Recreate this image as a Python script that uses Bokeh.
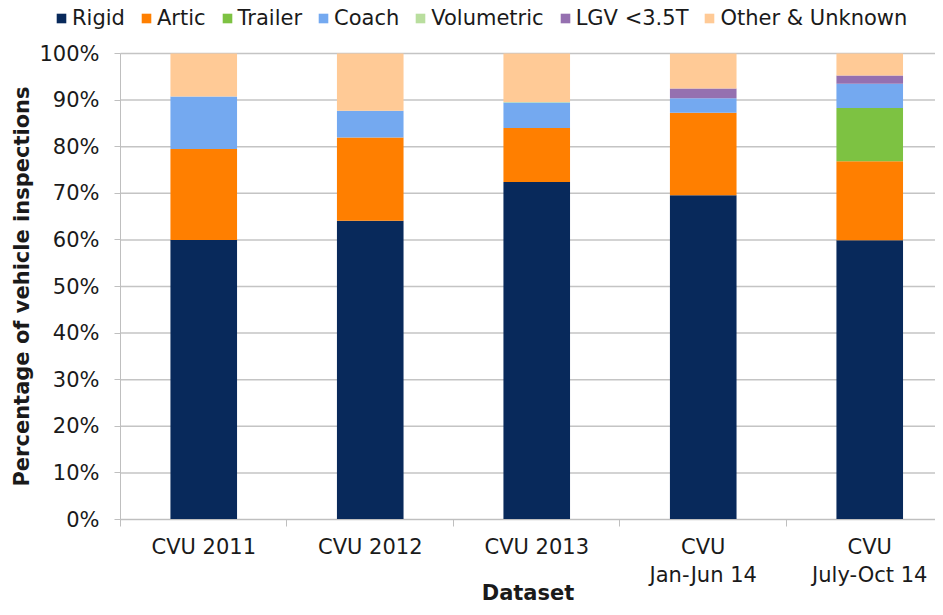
from bokeh.plotting import figure
from bokeh.models import (ColumnDataSource, Range1d, FixedTicker, NumeralTickFormatter,
                          Legend, LegendItem)
from bokeh.layouts import column
from bokeh.embed import file_html
from bokeh.resources import INLINE

categories = ["CVU 2011", "CVU 2012", "CVU 2013", "CVU\nJan-Jun 14", "CVU\nJuly-Oct 14"]
series_names = ["Rigid", "Artic", "Trailer", "Coach", "Volumetric", "LGV <3.5T", "Other & Unknown"]
rigid      = [0.600, 0.641, 0.724, 0.696, 0.599]
artic      = [0.195, 0.179, 0.116, 0.177, 0.170]
trailer    = [0.000, 0.000, 0.000, 0.000, 0.114]
coach      = [0.113, 0.057, 0.055, 0.031, 0.052]
volumetric = [0.000, 0.000, 0.001, 0.000, 0.000]
lgv        = [0.000, 0.000, 0.000, 0.021, 0.018]
other      = [0.092, 0.123, 0.104, 0.075, 0.047]
colors = ["#08295B", "#FF7F00", "#7DC242", "#74A9F0", "#B9DE9E", "#9570B0", "#FFCA96"]
y_ticks = [0.0, 0.1, 0.2, 0.3, 0.4, 0.5, 0.6, 0.7, 0.8, 0.9, 1.0]

series = [rigid, artic, trailer, coach, volumetric, lgv, other]
xs = [i + 0.5 for i in range(len(categories))]
X_END = 4.895          # right edge of the plotting area (in category units)
X_START = -0.7207      # room on the left for the value axis labels and title
Y_START = -0.1888      # room below for the category labels and title
Y_END = 1.0279         # a little room above 100% for its tick label

FONT = "DejaVu Sans"
FS = "21px"
GRID = "#C4C4C4"
AXIS = "#BFBFBF"
TXT = "#1a1a1a"

data = {"x": xs}
for name, vals in zip(series_names, series):
    data[name] = vals
src = ColumnDataSource(data)

# ---------------- main chart ----------------
p = figure(width=935, height=567, output_backend="svg", toolbar_location=None,
           x_range=Range1d(X_START, X_END), y_range=Range1d(Y_START, Y_END),
           min_border_left=0, min_border_right=0, min_border_top=0, min_border_bottom=0)
p.outline_line_color = None
p.background_fill_color = "white"
p.xgrid.visible = False
p.ygrid.visible = False

# horizontal gridlines, limited to the plotting area
p.segment(x0=[0] * len(y_ticks), x1=[X_END] * len(y_ticks), y0=y_ticks, y1=y_ticks,
          line_color=GRID, line_width=1.5)

p.vbar_stack(series_names, x="x", width=0.4, source=src, color=colors, line_color=None)

xa = p.xaxis[0]
xa.fixed_location = 0
xa.bounds = (0, X_END)
xa.ticker = FixedTicker(ticks=xs, minor_ticks=[0, 1, 2, 3, 4])
xa.major_label_overrides = {x: c for x, c in zip(xs, categories)}
xa.major_tick_out = 0
xa.major_tick_in = 0
xa.minor_tick_out = 7
xa.minor_tick_in = 0
xa.minor_tick_line_color = AXIS
xa.axis_line_color = AXIS
xa.major_label_text_font = FONT
xa.major_label_text_font_size = FS
xa.major_label_text_color = TXT
xa.major_label_standoff = 8
xa.axis_label = "Dataset"
xa.axis_label_text_font = FONT
xa.axis_label_text_font_size = FS
xa.axis_label_text_font_style = "bold"
xa.axis_label_text_color = TXT
xa.axis_label_standoff = -9

ya = p.yaxis[0]
ya.fixed_location = 0
ya.bounds = (0, 1)
ya.ticker = FixedTicker(ticks=y_ticks)
ya.formatter = NumeralTickFormatter(format="0%")
ya.minor_tick_line_color = None
ya.major_tick_out = 6
ya.major_tick_in = 0
ya.major_tick_line_color = AXIS
ya.axis_line_color = AXIS
ya.major_label_text_font = FONT
ya.major_label_text_font_size = FS
ya.major_label_text_color = TXT
ya.major_label_standoff = 15
ya.axis_label = "Percentage of vehicle inspections"
ya.axis_label_text_font = FONT
ya.axis_label_text_font_size = FS
ya.axis_label_text_font_style = "bold"
ya.axis_label_text_color = TXT
ya.axis_label_standoff = 2

# ---------------- legend strip ----------------
lg = figure(width=935, height=40, output_backend="svg", toolbar_location=None,
            x_axis_type=None, y_axis_type=None,
            x_range=Range1d(X_START, X_END), y_range=Range1d(2, 3),
            min_border_left=0, min_border_right=0, min_border_top=0, min_border_bottom=0)
lg.outline_line_color = None
lg.grid.visible = False
leg_renderers = lg.vbar_stack(series_names, x="x", width=0.4, source=src, color=colors,
                              line_color=None)
items = [LegendItem(label=n, renderers=[r]) for n, r in zip(series_names, leg_renderers)]
legend = Legend(items=items, orientation="horizontal", location=(55, 10),
                glyph_width=12, glyph_height=12, label_standoff=5, spacing=15,
                padding=0, margin=0, border_line_color=None, background_fill_alpha=0,
                label_text_font=FONT, label_text_font_size=FS, label_text_color=TXT)
lg.add_layout(legend, "center")

layout = column(lg, p, spacing=0)
open("out.html", "w").write(file_html(layout, INLINE))
